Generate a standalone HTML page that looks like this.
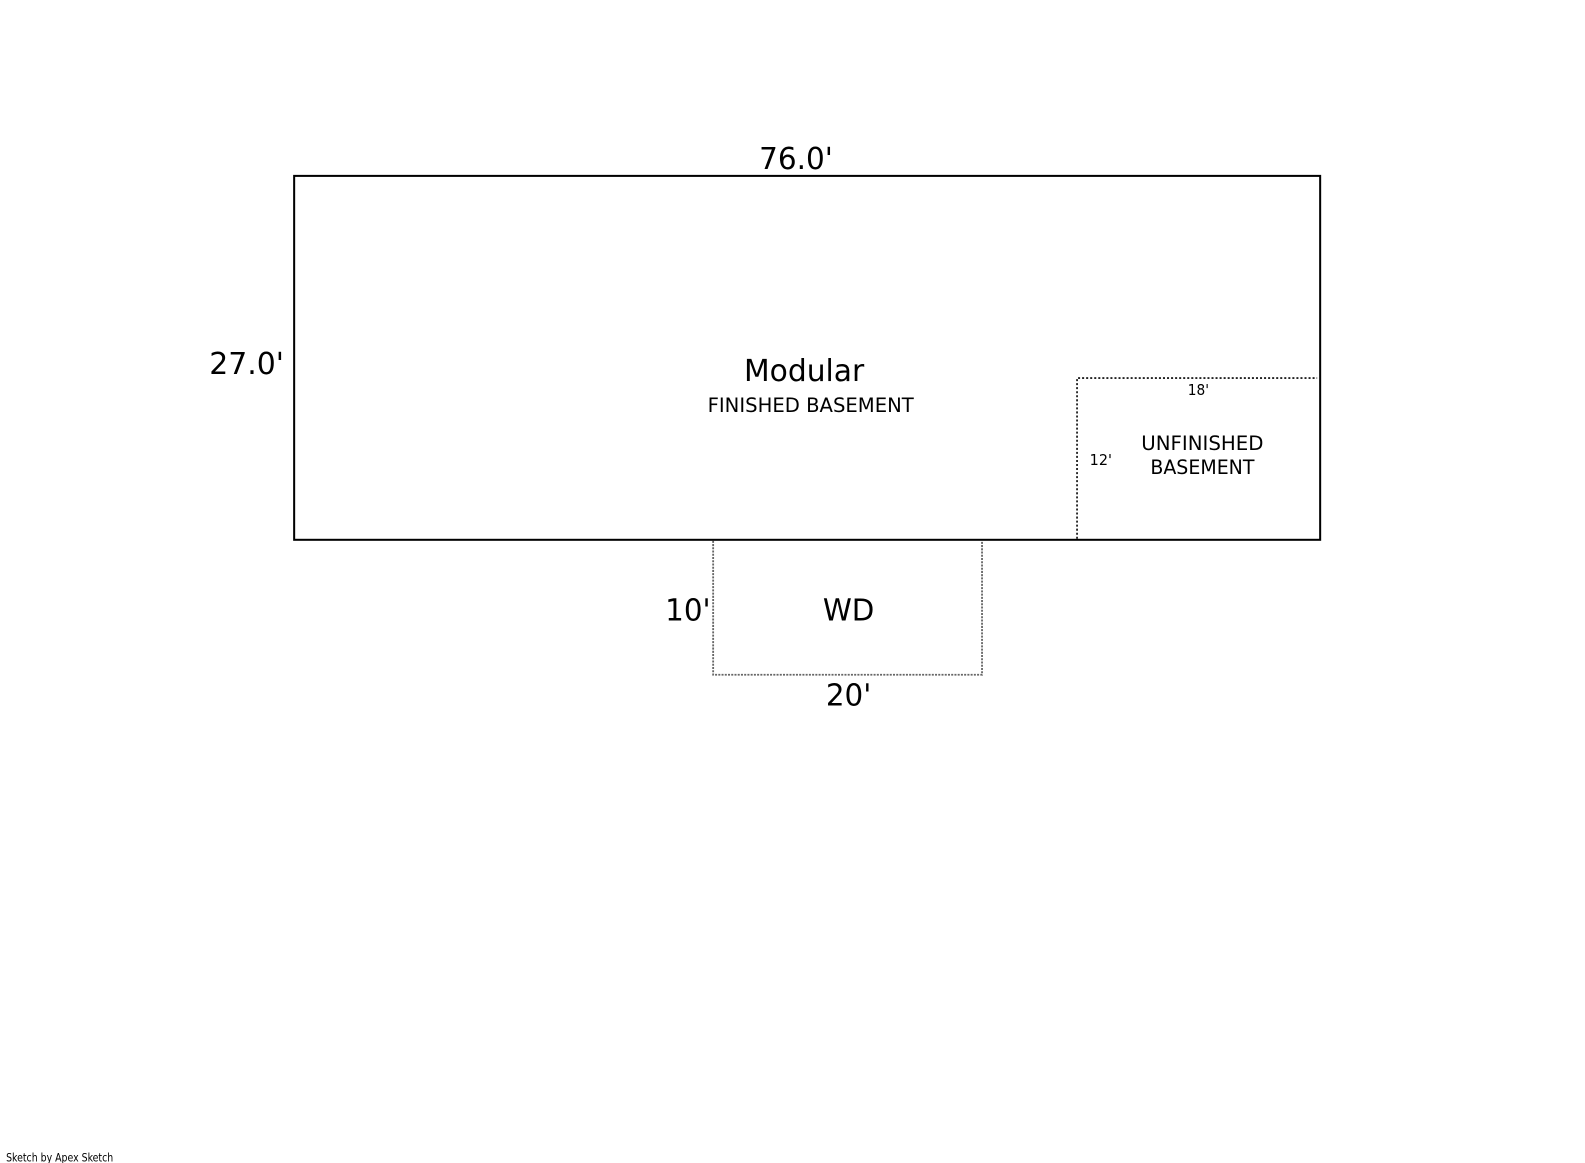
<!DOCTYPE html>
<html>
<head>
<meta charset="utf-8">
<style>
html,body{margin:0;padding:0;background:#fff;width:1585px;height:1163px;overflow:hidden}
svg{display:block}
text{font-family:"DejaVu Sans","Liberation Sans",sans-serif;fill:#000}
</style>
</head>
<body>
<svg width="1585" height="1163" viewBox="0 0 1568 1150.5" preserveAspectRatio="none" xmlns="http://www.w3.org/2000/svg">
<rect width="1568" height="1150.5" fill="#fff"/>
<!-- WD dotted -->
<path d="M705.5 535V667.5H971.5V535" fill="none" stroke="#666" stroke-width="1.8" stroke-dasharray="2 1.2"/>
<!-- Unfinished dotted -->
<path d="M1065.5 533V374H1303" fill="none" stroke="#222" stroke-width="1.8" stroke-dasharray="2 2"/>
<!-- Main -->
<rect x="291" y="174" width="1015" height="360" fill="none" stroke="#000" stroke-width="2"/>
<text x="751" y="167" font-size="30" textLength="73" lengthAdjust="spacingAndGlyphs">76.0'</text>
<text x="207" y="370" font-size="30" textLength="74" lengthAdjust="spacingAndGlyphs">27.0'</text>
<text x="736" y="377" font-size="30" textLength="119" lengthAdjust="spacingAndGlyphs">Modular</text>
<text x="700" y="407.5" font-size="19.5" textLength="204" lengthAdjust="spacingAndGlyphs">FINISHED BASEMENT</text>
<text x="1175" y="391" font-size="14.5" textLength="21" lengthAdjust="spacingAndGlyphs">18'</text>
<text x="1078" y="460" font-size="14.5" textLength="22" lengthAdjust="spacingAndGlyphs">12'</text>
<text x="1129" y="445" font-size="19.5" textLength="121" lengthAdjust="spacingAndGlyphs">UNFINISHED</text>
<text x="1138" y="469" font-size="19.5" textLength="103" lengthAdjust="spacingAndGlyphs">BASEMENT</text>
<text x="658" y="614" font-size="30" textLength="45" lengthAdjust="spacingAndGlyphs">10'</text>
<text x="814" y="614" font-size="30" textLength="51" lengthAdjust="spacingAndGlyphs">WD</text>
<text x="817" y="698" font-size="30" textLength="45" lengthAdjust="spacingAndGlyphs">20'</text>
<text x="6" y="1149" font-size="11" textLength="106" lengthAdjust="spacingAndGlyphs">Sketch by Apex Sketch</text>
</svg>
</body>
</html>
